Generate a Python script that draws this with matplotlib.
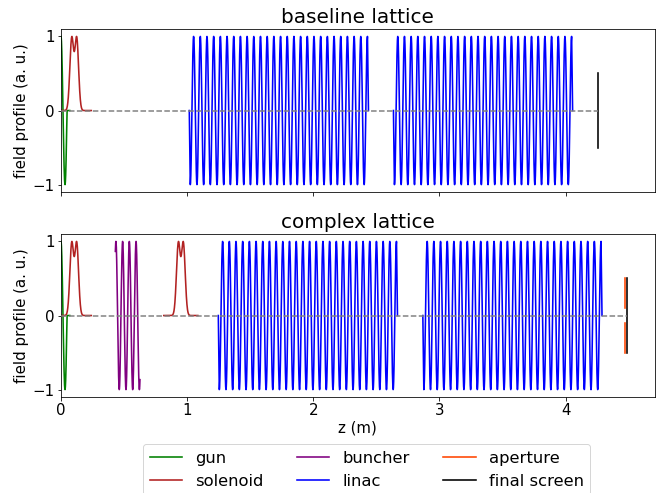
import numpy as np
import matplotlib
matplotlib.use("Agg")
import matplotlib.pyplot as plt

# Beamline layouts (positions along z in metres)
lattice_titles = ["baseline lattice", "complex lattice"]
solenoid_centers = [[0.105], [0.105, 0.950]]
buncher_spans = [[], [(0.431, 0.626)]]
linac_starts = [[1.017, 2.635], [1.247, 2.868]]
aperture_z = [None, 4.467]
screen_z = [4.256, 4.483]

# Element field-map parameters
rf_period = 0.053          # m, RF field period in cavities
gun_length = 0.048         # m
gun_tail = 0.07            # m
sol_half_width = 0.135     # m, extent of solenoid map
sol_peak_sep = 0.0395      # m, distance between the two lobes
sol_sigma = 0.0148         # m
linac_length = 1.42        # m
linac_periods = 26.5
buncher_phase = (-30.0, 210.0)  # deg, entrance / exit phase (plus full turns)
aperture_radius = 0.1
screen_half = 0.5

colors = {"gun": "green", "solenoid": "firebrick", "buncher": "purple",
          "linac": "blue", "aperture": "orangered", "final screen": "black"}


def gun_field():
    z = np.linspace(0, gun_tail, 300)
    f = np.where(z <= gun_length, np.cos(2 * np.pi * z / (4 * gun_length / 3)), 0.0)
    return z, f


def solenoid_field(zc):
    z = np.linspace(zc - sol_half_width, zc + sol_half_width, 400)
    d = sol_peak_sep / 2
    f = np.exp(-(z - zc - d) ** 2 / (2 * sol_sigma ** 2)) + \
        np.exp(-(z - zc + d) ** 2 / (2 * sol_sigma ** 2))
    return z, f / f.max()


def buncher_field(z0, z1):
    ph0 = np.deg2rad(buncher_phase[0])
    ph1 = np.deg2rad(buncher_phase[1] + 3 * 360.0)
    z = np.linspace(z0, z1, 400)
    ph = ph0 + (ph1 - ph0) * (z - z0) / (z1 - z0)
    return z, np.cos(ph)


def linac_field(z0):
    active = linac_periods * rf_period
    edge = (linac_length - active) / 2
    zi = np.linspace(z0 + edge, z0 + edge + active, 2000)
    fi = -np.cos(2 * np.pi * (zi - z0 - edge) / rf_period)
    z = np.concatenate([[z0], zi, [z0 + linac_length]])
    f = np.concatenate([[0.0], fi, [0.0]])
    return z, f


dpi = 72
fig = plt.figure(figsize=(657 / dpi, 493 / dpi), dpi=dpi)
ax_top = fig.add_axes([0.0928, 0.6105, 0.904, 0.3306])
ax_bot = fig.add_axes([0.0928, 0.1947, 0.904, 0.3306], sharex=ax_top)
axes = [ax_top, ax_bot]

lw = 1.6
for i, ax in enumerate(axes):
    z, f = gun_field()
    ax.plot(z, f, color=colors["gun"], lw=lw, label="gun")
    for k, zc in enumerate(solenoid_centers[i]):
        z, f = solenoid_field(zc)
        ax.plot(z, f, color=colors["solenoid"], lw=lw,
                label="solenoid" if k == 0 else None)
    for k, (z0, z1) in enumerate(buncher_spans[i]):
        z, f = buncher_field(z0, z1)
        ax.plot(z, f, color=colors["buncher"], lw=lw,
                label="buncher" if k == 0 else None)
    for k, z0 in enumerate(linac_starts[i]):
        z, f = linac_field(z0)
        ax.plot(z, f, color=colors["linac"], lw=lw,
                label="linac" if k == 0 else None)
    if aperture_z[i] is not None:
        za = aperture_z[i]
        ax.plot([za, za, np.nan, za, za],
                [aperture_radius, screen_half, np.nan, -aperture_radius, -screen_half],
                color=colors["aperture"], lw=lw, label="aperture")
    zs = screen_z[i]
    ax.plot([zs, zs], [-screen_half, screen_half], color=colors["final screen"],
            lw=lw, label="final screen")
    ax.plot([0, zs], [0, 0], color="gray", ls="--", lw=1.5, zorder=5)

    ax.set_title(lattice_titles[i], fontsize=20, pad=6)
    ax.set_ylabel("field profile (a. u.)", fontsize=15)
    ax.set_ylim(-1.1, 1.1)
    ax.set_yticks([-1, 0, 1])
    ax.tick_params(labelsize=15, pad=2.5)

ax_top.set_xlim(0, max(screen_z) * 1.05)
ax_top.tick_params(labelbottom=False)
ax_bot.set_xlabel("z (m)", fontsize=15, labelpad=2)

handles, labels = ax_bot.get_legend_handles_labels()
fig.legend(handles, labels, loc="upper center", ncol=3, fontsize=16.4,
           bbox_to_anchor=(0.558, 1 - 436 / 493))

fig.savefig("out.png", dpi=dpi)
